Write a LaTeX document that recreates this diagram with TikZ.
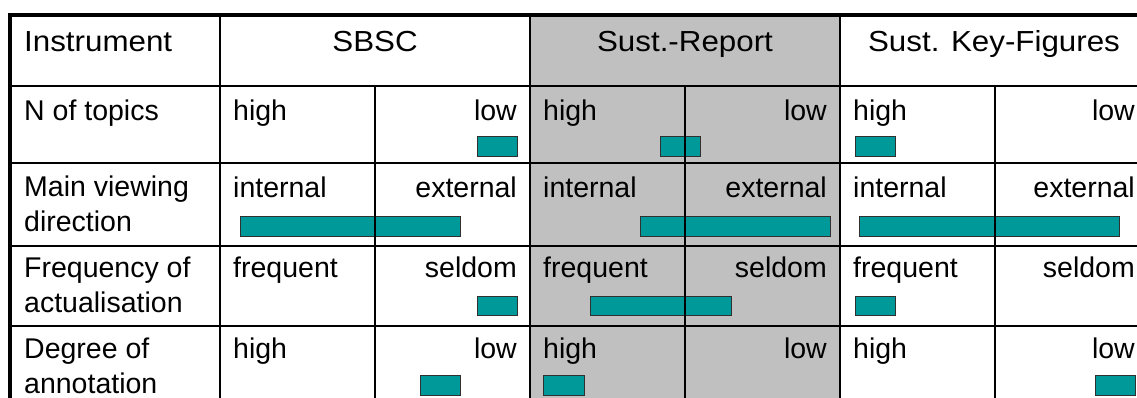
\documentclass[tikz,border=0pt]{standalone}
\usepackage{fontspec}
\setmainfont{Liberation Sans}
\newfontfamily\hdfont{Liberation Sans}[FakeStretch=1.08]
\definecolor{cellgray}{HTML}{C0C0C0}
\definecolor{barteal}{HTML}{009999}
\definecolor{bardraw}{HTML}{303030}
\begin{document}
\begin{tikzpicture}[x=1pt,y=-1pt,
  txt/.style={inner sep=0pt, font=\fontsize{28.5}{35}\selectfont},
  lbl/.style={txt, anchor=base west},
  rlbl/.style={txt, anchor=base east},
  hd/.style={inner sep=0pt, anchor=base, font=\hdfont\fontsize{29}{35}\selectfont},
  multi/.style={txt, anchor=base west, align=left},
  bar/.style={fill=barteal, draw=bardraw, line width=1pt},
  gridline/.style={line width=2.2pt},
  frame/.style={line width=3.5pt}]
\useasboundingbox (0,0) rectangle (1137,398);
\clip (0,0) rectangle (1137,398);
% shaded column
\fill[cellgray] (530,15) rectangle (840,420);
% bars
\path[bar] (477,137) rectangle (517,157);
\path[bar] (660,137) rectangle (700,157);
\path[bar] (855,137) rectangle (895,157);
\path[bar] (240,216) rectangle (460,236);
\path[bar] (640,216) rectangle (830,236);
\path[bar] (859,216) rectangle (1119,236);
\path[bar] (477,296) rectangle (517,315);
\path[bar] (590,296) rectangle (731,315);
\path[bar] (855,296) rectangle (895,315);
\path[bar] (420,375) rectangle (460,395);
\path[bar] (543,375) rectangle (584,395);
\path[bar] (1095,375) rectangle (1135,395);
% grid
\foreach \y in {86,163,246,326}
  \draw[gridline] (10,\y) -- (1160,\y);
\foreach \x in {220,530,840}
  \draw[gridline] (\x,15) -- (\x,420);
\foreach \x in {375,685,995}
  \draw[gridline] (\x,86) -- (\x,420);
\draw[frame] (10,420) -- (10,15) -- (1160,15);
% header
\node[hd, anchor=base west] (hInstr) at (24,52) {Instrument};
\node[hd] (hSBSC) at (375,52) {SBSC};
\node[hd] (hSR) at (685,52) {Sust.-Report};
\node[hd] (hSK) at (994,52) {Sust. Key-Figures};
% row labels
\node[lbl] (r1) at (24,121) {N of topics};
\node[multi] (r2) at (24,231) {Main viewing\\direction};
\node[multi] (r3) at (24,312) {Frequency of\\actualisation};
\node[multi] (r4) at (24,393) {Degree of\\annotation};
% row 1
\node[lbl] (a1l) at (233,121) {high};
\node[rlbl] (a1r) at (517,121) {low};
\node[lbl] (b1l) at (543,121) {high};
\node[rlbl] (b1r) at (827,121) {low};
\node[lbl] (c1l) at (853,121) {high};
\node[rlbl] (c1r) at (1135,121) {low};
% row 2
\node[lbl] (a2l) at (233,197) {internal};
\node[rlbl] (a2r) at (517,197) {external};
\node[lbl] (b2l) at (543,197) {internal};
\node[rlbl] (b2r) at (827,197) {external};
\node[lbl] (c2l) at (853,197) {internal};
\node[rlbl] (c2r) at (1135,197) {external};
% row 3
\node[lbl] (a3l) at (233,277) {frequent};
\node[rlbl] (a3r) at (517,277) {seldom};
\node[lbl] (b3l) at (543,277) {frequent};
\node[rlbl] (b3r) at (827,277) {seldom};
\node[lbl] (c3l) at (853,277) {frequent};
\node[rlbl] (c3r) at (1135,277) {seldom};
% row 4
\node[lbl] (a4l) at (233,358) {high};
\node[rlbl] (a4r) at (517,358) {low};
\node[lbl] (b4l) at (543,358) {high};
\node[rlbl] (b4r) at (827,358) {low};
\node[lbl] (c4l) at (853,358) {high};
\node[rlbl] (c4r) at (1135,358) {low};
\end{tikzpicture}
\end{document}
